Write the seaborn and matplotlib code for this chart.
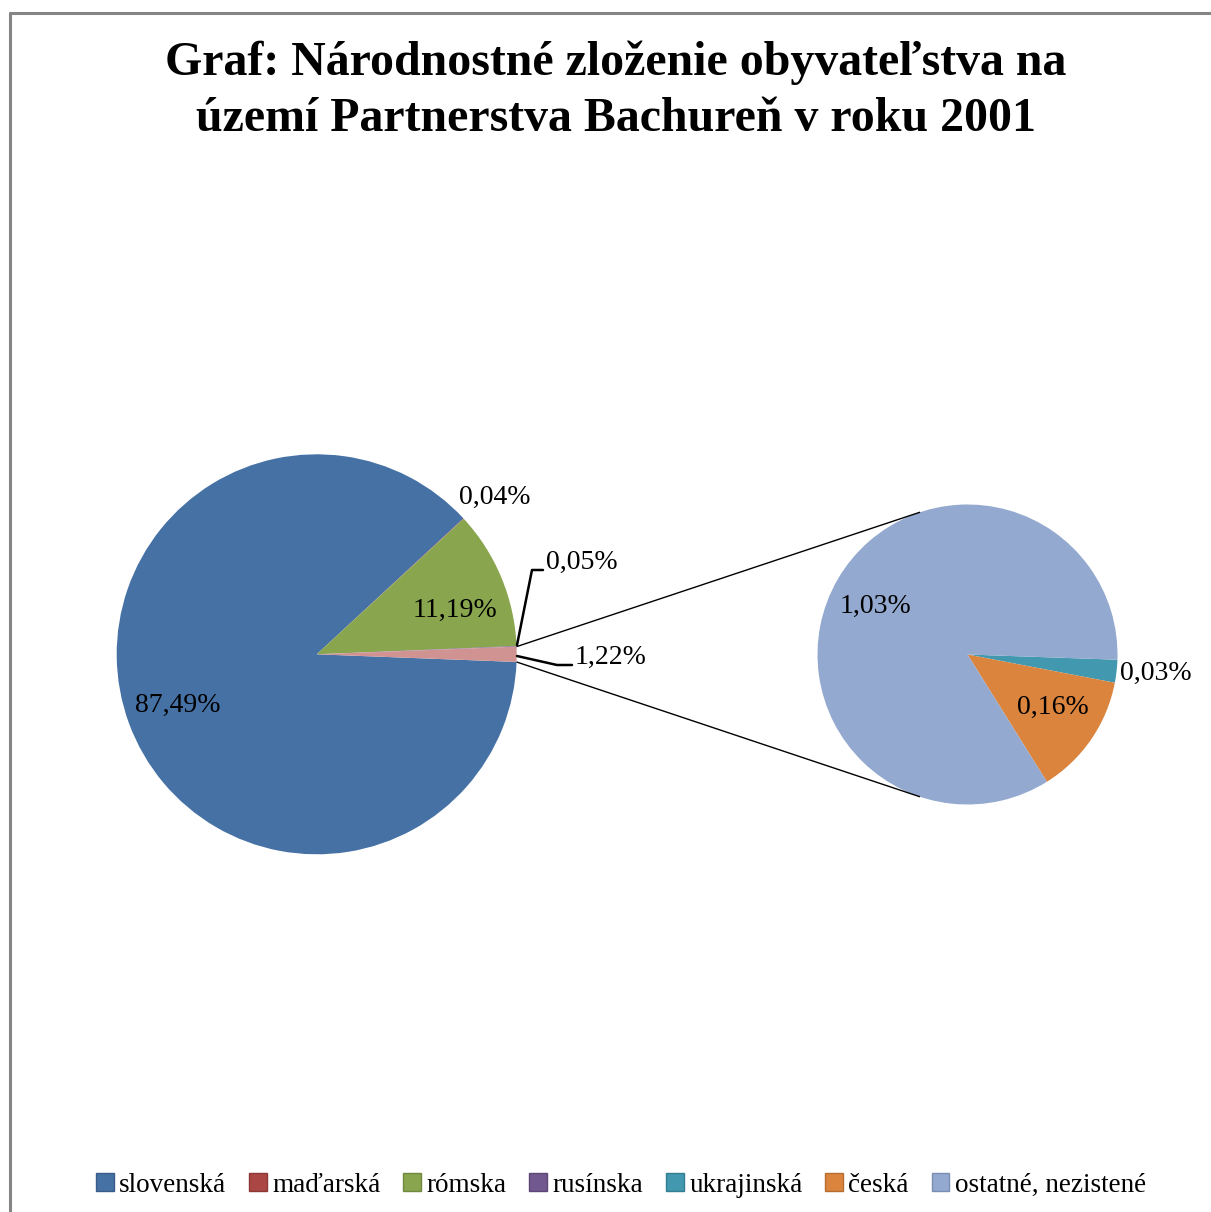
import numpy as np
import matplotlib
matplotlib.use("Agg")
import matplotlib.pyplot as plt
from matplotlib.patches import Patch
from matplotlib.lines import Line2D
import seaborn as sns

# ---- data ----
categories = ["slovenská", "maďarská", "rómska", "rusínska", "ukrajinská", "česká", "ostatné, nezistené"]
main_labels = ["slovenská", "maďarská", "rómska", "rusínska", "ostatné spolu"]
main_values = [87.49, 0.04, 11.19, 0.05, 1.22]
sub_labels = ["ukrajinská", "česká", "ostatné, nezistené"]
sub_values = [0.03, 0.16, 1.03]
main_texts = ["87,49%", "0,04%", "11,19%", "0,05%", "1,22%"]
sub_texts = ["0,03%", "0,16%", "1,03%"]
title_lines = ["Graf: Národnostné zloženie obyvateľstva na",
               "území Partnerstva Bachureň v roku 2001"]

colors = {
    "slovenská": "#4671A5",
    "maďarská": "#AA4643",
    "rómska": "#89A54E",
    "rusínska": "#71588F",
    "ukrajinská": "#4198AF",
    "česká": "#DB843D",
    "ostatné, nezistené": "#93A9CF",
    "ostatné spolu": "#D09392",
}
edge_colors = {
    "slovenská": "#385D8A", "maďarská": "#8C3836", "rómska": "#71893F",
    "rusínska": "#5C4776", "ukrajinská": "#357D91", "česká": "#B66D31",
    "ostatné, nezistené": "#7A8EB1",
}

sns.set_theme(style="white")
plt.rcParams["font.family"] = ["Liberation Serif", "DejaVu Serif"]
plt.rcParams["text.color"] = "black"

W, H = 1211, 1212
fig = plt.figure(figsize=(W / 100, H / 100), dpi=100)
ax = fig.add_axes([0, 0, 1, 1])

def Y(y):
    return H - y

# main pie
c1 = np.array([316.7, Y(654.3)])
r1 = 200
start1 = -main_values[-1] / sum(main_values) * 360 / 2
pal_main = sns.color_palette([colors[k] for k in main_labels])
ax.pie(main_values, colors=pal_main, startangle=start1, counterclock=False,
       radius=r1, center=tuple(c1), wedgeprops=dict(linewidth=0))

# secondary pie
c2 = np.array([967.5, Y(654.5)])
r2 = 150
pal_sub = sns.color_palette([colors[k] for k in sub_labels])
ax.pie(sub_values, colors=pal_sub, startangle=-2.0, counterclock=False,
       radius=r2, center=tuple(c2), wedgeprops=dict(linewidth=0))

ax.set_xlim(0, W)
ax.set_ylim(0, H)
ax.set_aspect("equal")
ax.axis("off")

# connector lines: from corners of "other" slice to tangent points of secondary pie
half = np.deg2rad(main_values[-1] / sum(main_values) * 360 / 2)
for sgn in (1, -1):
    p = c1 + r1 * np.array([np.cos(sgn * half), np.sin(sgn * half)])
    d = c2 - p
    dist = np.hypot(*d)
    base = np.arctan2(-d[1], -d[0])
    a = base - sgn * np.arccos(r2 / dist)
    q = c2 + r2 * np.array([np.cos(a), np.sin(a)])
    ax.plot([p[0], q[0]], [p[1], q[1]], color="black", lw=1.0, solid_capstyle="butt")

# leader lines
ax.plot([517, 532, 543], [Y(645), Y(570), Y(570)], color="black", lw=1.8)
ax.plot([517, 557, 572], [Y(656), Y(665), Y(665)], color="black", lw=1.8)

fs = 20
lab_pos_main = [(178, 705), (495, 497), (455, 610), (582, 562), (611, 657)]
for t, (x, y) in zip(main_texts, lab_pos_main):
    ax.text(x, Y(y), t, ha="center", va="center", fontsize=fs, color="black")
lab_pos_sub = [(1156, 673), (1053, 707), (875, 606)]
for t, (x, y) in zip(sub_texts, lab_pos_sub):
    ax.text(x, Y(y), t, ha="center", va="center", fontsize=fs, color="black")

# title
for line, yc in zip(title_lines, (63, 119)):
    fig.text(616 / W, 1 - yc / H, line, ha="center", va="center",
             fontsize=34.5, fontweight="bold", color="black")

# legend
handles = [Patch(facecolor=colors[k], edgecolor=edge_colors[k], linewidth=1.0, label=k)
           for k in categories]
fig.legend(handles=handles, loc="center", bbox_to_anchor=(621 / W, 1 - 1185 / H),
           ncol=7, frameon=False, fontsize=19.5, handlelength=0.65, handleheight=0.65,
           handletextpad=0.2, columnspacing=0.85, borderpad=0, labelcolor="black")

# chart-area border (top and left)
fig.add_artist(Line2D([10 / W, 1], [1 - 13 / H, 1 - 13 / H], color="#858585", lw=2.2))
fig.add_artist(Line2D([10 / W, 10 / W], [0, 1 - 13 / H], color="#858585", lw=2.2))

fig.savefig("out.png", dpi=100, facecolor="white")
